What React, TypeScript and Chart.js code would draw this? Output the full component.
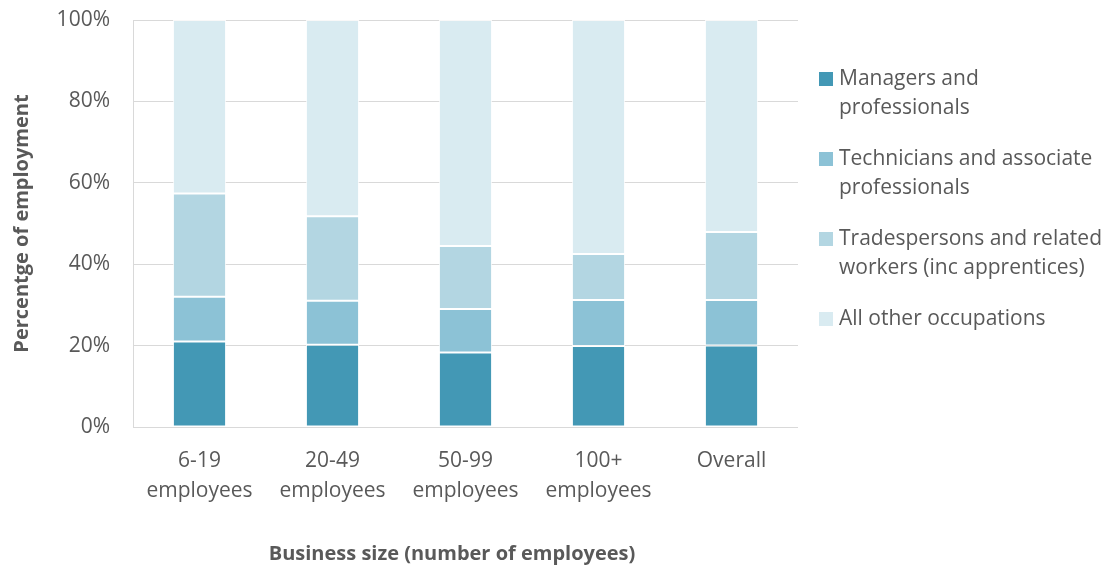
import React, { useEffect, useRef } from "react";
import { Chart, registerables } from "chart.js";

Chart.register(...registerables);

const categories: (string | string[])[] = [
  ["6-19", "employees"],
  ["20-49", "employees"],
  ["50-99", "employees"],
  ["100+", "employees"],
  "Overall",
];

const seriesNames = [
  "Managers and professionals",
  "Technicians and associate professionals",
  "Tradespersons and related workers (inc apprentices)",
  "All other occupations",
];

const legendLines = [
  ["Managers and", "professionals"],
  ["Technicians and associate", "professionals"],
  ["Tradespersons and related", "workers (inc apprentices)"],
  ["All other occupations"],
];

const managers = [21.0, 20.2, 18.3, 19.9, 20.0];
const technicians = [11.0, 10.8, 10.7, 11.3, 11.2];
const tradespersons = [25.4, 20.8, 15.5, 11.3, 16.7];
const otherOccupations = [42.6, 48.2, 55.5, 57.5, 52.1];

const yTicks = [0, 20, 40, 60, 80, 100];

const xTitle = "Business size (number of employees)";
const yTitle = "Percentge of employment";

const colors = ["#4398B5", "#8CC2D6", "#B3D6E2", "#D9EBF1"];

const FONT = '"Open Sans", "Liberation Sans", sans-serif';
const TEXT = "#595959";

const legendPlugin = {
  id: "customLegend",
  afterDraw(chart: any) {
    const ctx = chart.ctx;
    ctx.save();
    ctx.font = `21px ${FONT}`;
    ctx.textBaseline = "middle";
    ctx.textAlign = "left";
    chart.data.datasets.forEach((ds: any, i: number) => {
      const y0 = 79 + i * 80;
      ctx.fillStyle = ds.backgroundColor;
      ctx.fillRect(819, y0 - 7, 14, 14);
      ctx.fillStyle = TEXT;
      legendLines[i].forEach((line, j) => {
        ctx.fillText(line, 839, y0 + j * 29);
      });
    });
    // x-axis title
    ctx.font = `bold 20px ${FONT}`;
    ctx.textAlign = "center";
    ctx.fillStyle = TEXT;
    ctx.fillText(xTitle, 452, 554);
    ctx.restore();
  },
};

export default function App() {
  const ref = useRef<HTMLCanvasElement>(null);
  useEffect(() => {
    document.body.style.margin = "0";
    const seriesData = [managers, technicians, tradespersons, otherOccupations];
    const chart = new Chart(ref.current as HTMLCanvasElement, {
      type: "bar",
      data: {
        labels: categories,
        datasets: seriesData.map((d, i) => ({
          label: seriesNames[i],
          data: d,
          backgroundColor: colors[i],
          borderColor: "rgba(255,255,255,0.8)",
          borderWidth: 1,
          borderSkipped: false,
          barPercentage: 0.4,
          categoryPercentage: 1.0,
        })),
      },
      options: {
        animation: false,
        responsive: true,
        maintainAspectRatio: false,
        layout: { padding: { left: 0, right: 311, top: 20, bottom: 0 } },
        plugins: {
          legend: { display: false },
          tooltip: { enabled: false },
        },
        scales: {
          x: {
            stacked: true,
            grid: { display: false },
            border: { display: false },
            ticks: {
              color: TEXT,
              font: { family: FONT, size: 21, lineHeight: "30px" } as any,
              padding: 11,
              maxRotation: 0,
              autoSkip: false,
            },
            title: { display: false },
            afterFit: (s: any) => {
              s.height = 144;
              s.paddingLeft = 0;
              s.paddingRight = 0;
            },
          },
          y: {
            stacked: true,
            min: 0,
            max: 100,
            afterBuildTicks: (s: any) => {
              s.ticks = yTicks.map((v) => ({ value: v }));
            },
            ticks: {
              color: TEXT,
              font: { family: FONT, size: 21 },
              padding: 23,
              callback: (v: any) => v + "%",
            },
            grid: { color: "#d9d9d9", drawTicks: false, lineWidth: 1 },
            border: { display: true, color: "#d9d9d9" },
            title: {
              display: true,
              text: yTitle,
              color: TEXT,
              font: { family: FONT, size: 20, weight: "bold" },
              padding: { top: 10, bottom: 0 },
            },
            afterFit: (s: any) => {
              s.width = 133;
              s.paddingTop = 0;
              s.paddingBottom = 0;
            },
          },
        },
      },
      plugins: [legendPlugin],
    });
    return () => chart.destroy();
  }, []);
  return (
    <div style={{ width: 1109, height: 571, position: "relative" }}>
      <canvas ref={ref} />
    </div>
  );
}
